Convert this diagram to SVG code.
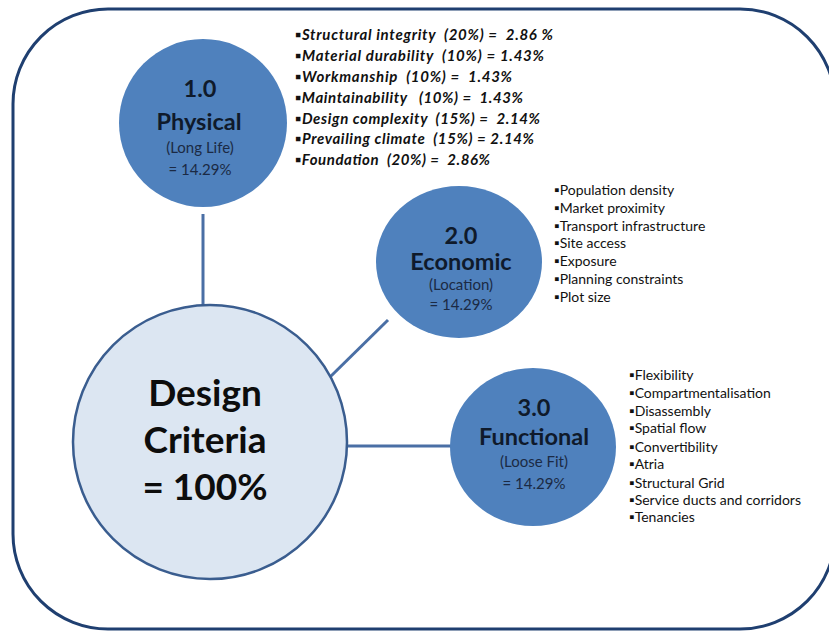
<svg xmlns="http://www.w3.org/2000/svg" width="829" height="632" viewBox="0 0 829 632">
<style>
.bub{fill:#4f81bd;}
.num{font-family:Lato,"Liberation Sans",sans-serif;font-weight:bold;font-size:23.5px;fill:#0f1a2b;text-anchor:middle;}
.sub{font-family:Lato,"Liberation Sans",sans-serif;font-size:15px;fill:#1b2a44;text-anchor:middle;}
.big{font-family:Lato,"Liberation Sans",sans-serif;font-weight:bold;font-size:37px;fill:#0d0d0d;text-anchor:middle;}
.li{font-family:Lato,"Liberation Sans",sans-serif;font-size:14px;fill:#111;}
.lii{font-family:Lato,"Liberation Sans",sans-serif;font-size:15px;font-style:italic;font-weight:bold;fill:#111;white-space:pre;}
.con{stroke:#4a6fa5;stroke-width:3;fill:none;}
</style>
<rect x="13" y="9" width="822" height="620" rx="95" ry="95" fill="#ffffff" stroke="#1f3f70" stroke-width="3"/>
<g id="connectors">
<line class="con" x1="203" y1="214" x2="203" y2="305"/>
<line class="con" x1="388" y1="320" x2="329" y2="378"/>
<line class="con" x1="347" y1="446" x2="451" y2="446"/>
</g>
<g id="design">
<circle cx="210" cy="442" r="137" fill="#dce6f2" stroke="#3a5d8f" stroke-width="2.5"/>
<text class="big" x="205" y="406">Design</text>
<text class="big" x="205" y="453">Criteria</text>
<text class="big" x="205" y="500">= 100%</text>
</g>
<g id="physical">
<circle class="bub" cx="203" cy="123" r="84"/>
<text class="num" x="200" y="97">1.0</text>
<text class="num" x="199" y="130">Physical</text>
<text class="sub" x="200" y="153">(Long Life)</text>
<text class="sub" x="200" y="175">= 14.29%</text>
</g>
<g id="physical-list">
<text class="lii" x="295" y="40" textLength="258" lengthAdjust="spacing">▪Structural integrity  (20%) =  2.86 %</text>
<text class="lii" x="295" y="61" textLength="249" lengthAdjust="spacing">▪Material durability  (10%) = 1.43%</text>
<text class="lii" x="295" y="82" textLength="217" lengthAdjust="spacing">▪Workmanship  (10%) =  1.43%</text>
<text class="lii" x="295" y="103" textLength="228" lengthAdjust="spacing">▪Maintainability   (10%) =  1.43%</text>
<text class="lii" x="295" y="124" textLength="245" lengthAdjust="spacing">▪Design complexity  (15%) =  2.14%</text>
<text class="lii" x="295" y="144" textLength="239" lengthAdjust="spacing">▪Prevailing climate  (15%) = 2.14%</text>
<text class="lii" x="295" y="165" textLength="195" lengthAdjust="spacing">▪Foundation  (20%) =  2.86%</text>
</g>
<g id="economic">
<ellipse class="bub" cx="459" cy="262" rx="83" ry="76"/>
<text class="num" x="461" y="244">2.0</text>
<text class="num" x="461" y="270">Economic</text>
<text class="sub" x="461" y="290">(Location)</text>
<text class="sub" x="461" y="310">= 14.29%</text>
</g>
<g id="economic-list">
<text class="li" x="554" y="195">▪Population density</text>
<text class="li" x="554" y="213">▪Market proximity</text>
<text class="li" x="554" y="231">▪Transport infrastructure</text>
<text class="li" x="554" y="248">▪Site access</text>
<text class="li" x="554" y="266">▪Exposure</text>
<text class="li" x="554" y="284">▪Planning constraints</text>
<text class="li" x="554" y="302">▪Plot size</text>
</g>
<g id="functional">
<ellipse class="bub" cx="533" cy="447" rx="83" ry="79"/>
<text class="num" x="534" y="416">3.0</text>
<text class="num" x="534" y="445">Functional</text>
<text class="sub" x="534" y="467">(Loose Fit)</text>
<text class="sub" x="534" y="489">= 14.29%</text>
</g>
<g id="functional-list">
<text class="li" x="629" y="380">▪Flexibility</text>
<text class="li" x="629" y="398">▪Compartmentalisation</text>
<text class="li" x="629" y="416">▪Disassembly</text>
<text class="li" x="629" y="433">▪Spatial flow</text>
<text class="li" x="629" y="452">▪Convertibility</text>
<text class="li" x="629" y="469">▪Atria</text>
<text class="li" x="629" y="488">▪Structural Grid</text>
<text class="li" x="629" y="505">▪Service ducts and corridors</text>
<text class="li" x="629" y="522">▪Tenancies</text>
</g>
</svg>
